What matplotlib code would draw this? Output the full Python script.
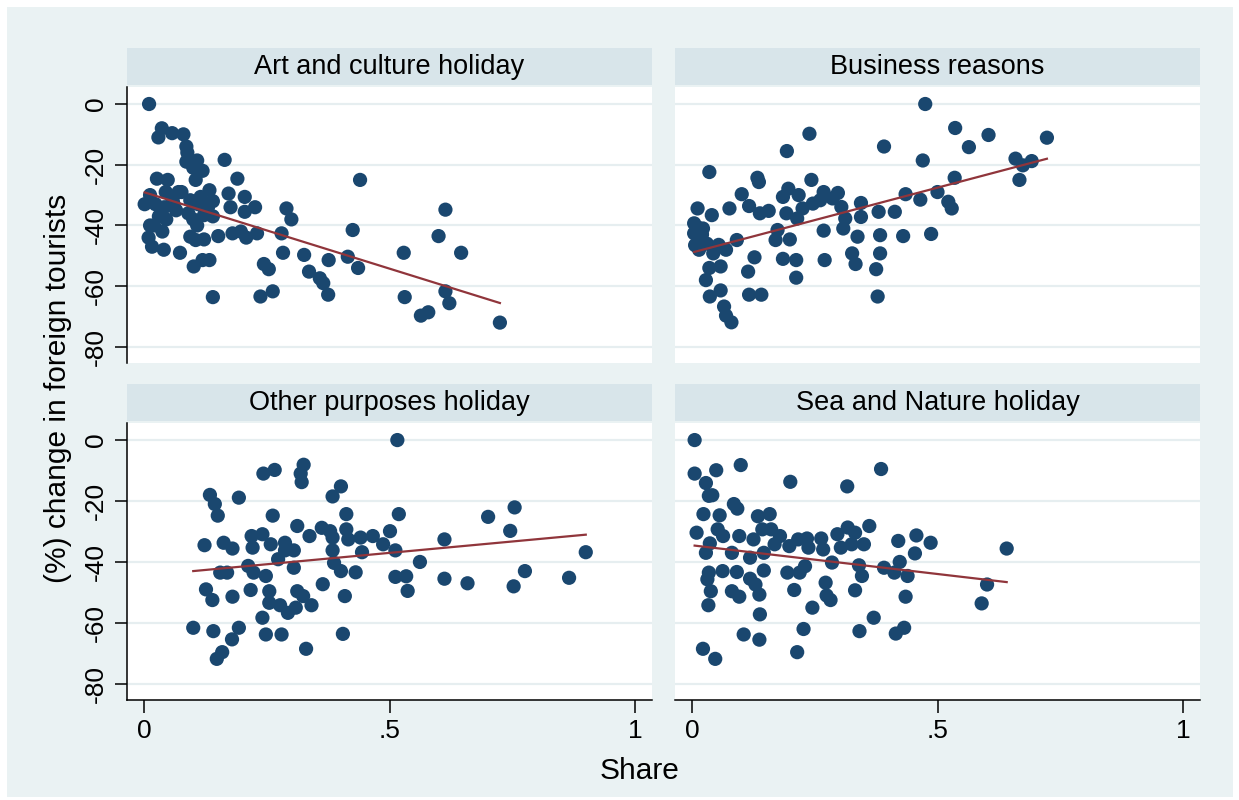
import numpy as np
import matplotlib
matplotlib.use("Agg")
import matplotlib.pyplot as plt
from matplotlib.patches import Rectangle

plt.rcParams['font.family'] = ['Liberation Sans', 'DejaVu Sans']

# share of tourists by purpose vs % change in foreign tourists
art_x = [0.01, 0.036, 0.029, 0.057, 0.08, 0.086, 0.088, 0.086, 0.108, 0.10, 0.119, 0.105,
         0.164, 0.026, 0.048, 0.19, 0.44, 0.012, 0.001, 0.023, 0.044, 0.058, 0.076, 0.094,
         0.115, 0.133, 0.14, 0.172, 0.205, 0.176, 0.205, 0.226, 0.041, 0.065, 0.03, 0.122,
         0.14, 0.29, 0.30, 0.614, 0.012, 0.037, 0.108, 0.009, 0.016, 0.04, 0.073, 0.094,
         0.105, 0.122, 0.151, 0.18, 0.197, 0.208, 0.23, 0.28, 0.425, 0.60, 0.283, 0.326,
         0.376, 0.415, 0.436, 0.529, 0.646, 0.101, 0.119, 0.133, 0.244, 0.254, 0.336, 0.358,
         0.365, 0.375, 0.14, 0.237, 0.262, 0.531, 0.614, 0.622, 0.564, 0.579, 0.725,
         0.06, 0.09, 0.11, 0.13, 0.07, 0.045, 0.10, 0.02]
art_y = [0, -8, -11, -9.6, -10, -14, -16, -19, -18.6, -21, -22, -25,
         -18.4, -24.6, -25, -24.6, -25, -30, -33, -33, -29, -31.7, -29, -31.7,
         -30.6, -28.4, -32, -29.5, -30.6, -34, -35.5, -34, -34, -35, -37, -36.6,
         -37, -34.4, -38, -34.8, -40, -42, -40, -44, -47, -48, -49, -43.7,
         -44.8, -44.6, -43.5, -42.6, -42, -44, -42.6, -42.6, -41.5, -43.5, -49, -49.7,
         -51.4, -50.3, -54, -49, -49, -53.5, -51.4, -51.4, -52.7, -54.4, -55.2, -57.4,
         -59, -62.8, -63.6, -63.4, -61.7, -63.6, -61.7, -65.6, -69.7, -68.6, -72,
         -33, -36, -33, -34, -29, -38, -38, -40]

bus_x = [0.475, 0.239, 0.536, 0.604, 0.723, 0.391, 0.564, 0.193, 0.470, 0.659, 0.674, 0.692,
         0.667, 0.035, 0.133, 0.136, 0.243, 0.535, 0.196, 0.101, 0.185, 0.217, 0.268, 0.297,
         0.286, 0.435, 0.465, 0.50, 0.522, 0.529, 0.011, 0.04, 0.076, 0.116, 0.138, 0.156,
         0.192, 0.225, 0.246, 0.261, 0.304, 0.344, 0.380, 0.413, 0.344, 0.312, 0.214, 0.004,
         0.022, 0.004, 0.018, 0.014, 0.054, 0.069, 0.091, 0.174, 0.170, 0.199, 0.268, 0.308,
         0.337, 0.383, 0.430, 0.487, 0.043, 0.127, 0.185, 0.212, 0.270, 0.326, 0.333, 0.383,
         0.375, 0.035, 0.058, 0.114, 0.028, 0.212, 0.058, 0.036, 0.116, 0.141, 0.378, 0.065,
         0.069, 0.08, 0.01, 0.02, 0.03, 0.006]
bus_y = [0, -9.8, -7.9, -10.2, -11.1, -14, -14.2, -15.5, -18.6, -18, -20.2, -18.8,
         -25, -22.4, -24.3, -25.7, -25, -24.3, -27.9, -29.7, -30.6, -30, -29, -29.3,
         -31.1, -29.7, -31.5, -29, -32.2, -34.4, -34.4, -36.6, -34.4, -33.6, -36, -35.2,
         -36, -34.4, -32.8, -31.7, -33.9, -32.6, -35.5, -35.5, -37.2, -37.7, -37.7, -39.3,
         -41, -42.6, -44.8, -48, -46.4, -48, -44.8, -41.5, -44.8, -44.6, -41.7, -41,
         -43.7, -43.2, -43.5, -42.8, -49.2, -50.5, -51, -51.4, -51.4, -49.2, -52.7, -49.2,
         -54.4, -54, -53.5, -55.2, -58, -57.2, -61.4, -63.4, -62.8, -62.8, -63.4, -66.7,
         -69.7, -71.9, -40.5, -43, -46, -46.5]

oth_x = [0.516, 0.243, 0.266, 0.325, 0.321, 0.319, 0.134, 0.144, 0.15, 0.193, 0.401, 0.384,
         0.262, 0.412, 0.519, 0.701, 0.755, 0.312, 0.746, 0.123, 0.162, 0.18, 0.219, 0.241,
         0.221, 0.258, 0.287, 0.287, 0.305, 0.337, 0.362, 0.379, 0.384, 0.412, 0.416, 0.441,
         0.466, 0.487, 0.501, 0.512, 0.444, 0.384, 0.612, 0.90, 0.562, 0.273, 0.212, 0.223,
         0.248, 0.155, 0.169, 0.305, 0.387, 0.401, 0.431, 0.512, 0.534, 0.537, 0.612, 0.659,
         0.776, 0.753, 0.866, 0.126, 0.139, 0.18, 0.217, 0.255, 0.255, 0.277, 0.293, 0.309,
         0.312, 0.324, 0.341, 0.364, 0.409, 0.241, 0.10, 0.141, 0.193, 0.179, 0.248, 0.28,
         0.405, 0.33, 0.159, 0.148]
oth_y = [0, -11, -9.8, -8.1, -13.8, -11, -18, -21, -24.8, -18.9, -15.2, -18.5,
         -24.8, -24.3, -24.3, -25.2, -22.1, -28.2, -29.8, -34.5, -33.7, -35.6, -31.5, -30.9,
         -35.3, -34.2, -33.7, -36.2, -36.2, -31.5, -28.8, -29.9, -32, -29.3, -32.6, -32,
         -31.5, -34.2, -29.9, -36.2, -36.8, -36.2, -32.6, -36.8, -40, -39.1, -41.3, -43.5,
         -44.6, -43.5, -43.5, -41.9, -40.3, -43, -43.4, -44.9, -44.7, -49.5, -45.5, -47,
         -43, -48, -45.2, -49, -52.5, -51.4, -49.2, -49.6, -53.4, -54.2, -56.7, -55,
         -49.6, -51.2, -54.2, -47.3, -51.2, -58.3, -61.6, -62.7, -61.6, -65.4, -63.8, -63.8,
         -63.6, -68.5, -69.6, -71.8]

sea_x = [0.005, 0.005, 0.049, 0.099, 0.028, 0.034, 0.041, 0.20, 0.316, 0.385, 0.085, 0.092,
         0.023, 0.056, 0.134, 0.158, 0.009, 0.052, 0.063, 0.096, 0.125, 0.143, 0.161, 0.168,
         0.179, 0.198, 0.216, 0.234, 0.237, 0.263, 0.267, 0.296, 0.317, 0.332, 0.303, 0.325,
         0.35, 0.361, 0.42, 0.457, 0.486, 0.454, 0.641, 0.036, 0.028, 0.081, 0.118, 0.146,
         0.285, 0.34, 0.391, 0.423, 0.412, 0.439, 0.346, 0.034, 0.062, 0.091, 0.146, 0.194,
         0.219, 0.23, 0.031, 0.118, 0.129, 0.272, 0.601, 0.038, 0.081, 0.096, 0.137, 0.208,
         0.274, 0.282, 0.332, 0.435, 0.033, 0.245, 0.59, 0.138, 0.37, 0.227, 0.341, 0.415,
         0.432, 0.105, 0.137, 0.022, 0.047, 0.214]
sea_y = [0, -11, -9.9, -8.2, -14.1, -18.3, -18.1, -13.7, -15.2, -9.5, -21, -22.5,
         -24.3, -24.7, -25, -24.3, -30.4, -29.3, -31.5, -31.5, -32.6, -29.3, -29.3, -34.2,
         -31.5, -34.8, -32.6, -32.3, -35.3, -32.3, -35.9, -30.9, -28.7, -30.4, -35.3, -34.2,
         -34.2, -28.2, -33.1, -31.3, -33.7, -37.2, -35.6, -33.9, -37, -37, -38.6, -37,
         -40.2, -41.1, -41.9, -40, -43.5, -44.6, -44.6, -43.5, -43, -43.3, -42.8, -43.5,
         -43.5, -41.4, -45.7, -45.5, -47.4, -46.8, -47.4, -49.6, -49.6, -51.4, -50.7, -49.2,
         -51, -52.5, -49.3, -51.4, -54.2, -55, -53.6, -57.2, -58.3, -62, -62.7, -63.5,
         -61.6, -63.8, -65.5, -68.5, -71.8, -69.6]

titles = ["Art and culture holiday", "Business reasons",
          "Other purposes holiday", "Sea and Nature holiday"]
xs = [art_x, bus_x, oth_x, sea_x]
ys = [art_y, bus_y, oth_y, sea_y]

yticks = [0, -20, -40, -60, -80]
xticks = [0, 0.5, 1]
xticklabels = ["0", ".5", "1"]

navy = "#1a476f"
maroon = "#90353b"
outer = "#eaf2f3"
strip = "#d8e5ea"
grid = "#e6eef0"

W, H = 1239, 800
fig = plt.figure(figsize=(W / 100, H / 100), dpi=100, facecolor="white")
fig.patches.append(Rectangle((7 / W, 3 / H), 1226 / W, 790 / H, transform=fig.transFigure,
                             facecolor=outer, edgecolor="none", zorder=-10))

def px_rect(x0, y0, x1, y1):
    return [x0 / W, 1 - y1 / H, (x1 - x0) / W, (y1 - y0) / H]

cols = [(127, 652), (675, 1200)]
rows = [(87, 363, 48, 85), (423, 700, 384, 421)]

for i in range(4):
    r, c = divmod(i, 2)
    x0, x1 = cols[c]
    py0, py1, sy0, sy1 = rows[r]

    # title strip above each panel
    sax = fig.add_axes(px_rect(x0, sy0, x1, sy1))
    sax.set_facecolor(strip)
    sax.set_xticks([]); sax.set_yticks([])
    for s in sax.spines.values():
        s.set_visible(False)
    sax.text(0.5, 0.48, titles[i], ha="center", va="center", fontsize=19.5,
             transform=sax.transAxes)

    ax = fig.add_axes(px_rect(x0, py0, x1, py1))
    ax.set_facecolor("white")
    ax.set_xlim(-0.035, 1.035)
    ax.set_ylim(-85.3, 5.6)
    for y in yticks:
        ax.axhline(y, color=grid, lw=1.6, zorder=0)

    x = np.array(xs[i]); y = np.array(ys[i])
    ax.scatter(x, y, s=105, color=navy, edgecolors="none", zorder=2)
    b, a = np.polyfit(x, y, 1)
    xl = np.array([x.min(), x.max()])
    ax.plot(xl, a + b * xl, color=maroon, lw=1.6, zorder=3)

    for s in ["top", "right"]:
        ax.spines[s].set_visible(False)
    ax.tick_params(length=9, width=1.1, labelsize=19, pad=5)

    if c == 0:
        ax.spines["left"].set_linewidth(1.1)
        ax.set_yticks(yticks)
        ax.set_yticklabels([str(v) for v in yticks], rotation=90, va="center")
    else:
        ax.spines["left"].set_visible(False)
        ax.set_yticks([])
    if r == 1:
        ax.spines["bottom"].set_linewidth(1.1)
        ax.set_xticks(xticks)
        ax.set_xticklabels(xticklabels)
    else:
        ax.spines["bottom"].set_visible(False)
        ax.set_xticks([])

fig.text(58 / W, 1 - 388 / H, "(%) change in foreign tourists", rotation=90,
         ha="center", va="center", fontsize=21.5)
fig.text(640 / W, 1 - 771 / H, "Share", ha="center", va="center", fontsize=21.5)

fig.savefig("out.png", dpi=100, facecolor=fig.get_facecolor())
